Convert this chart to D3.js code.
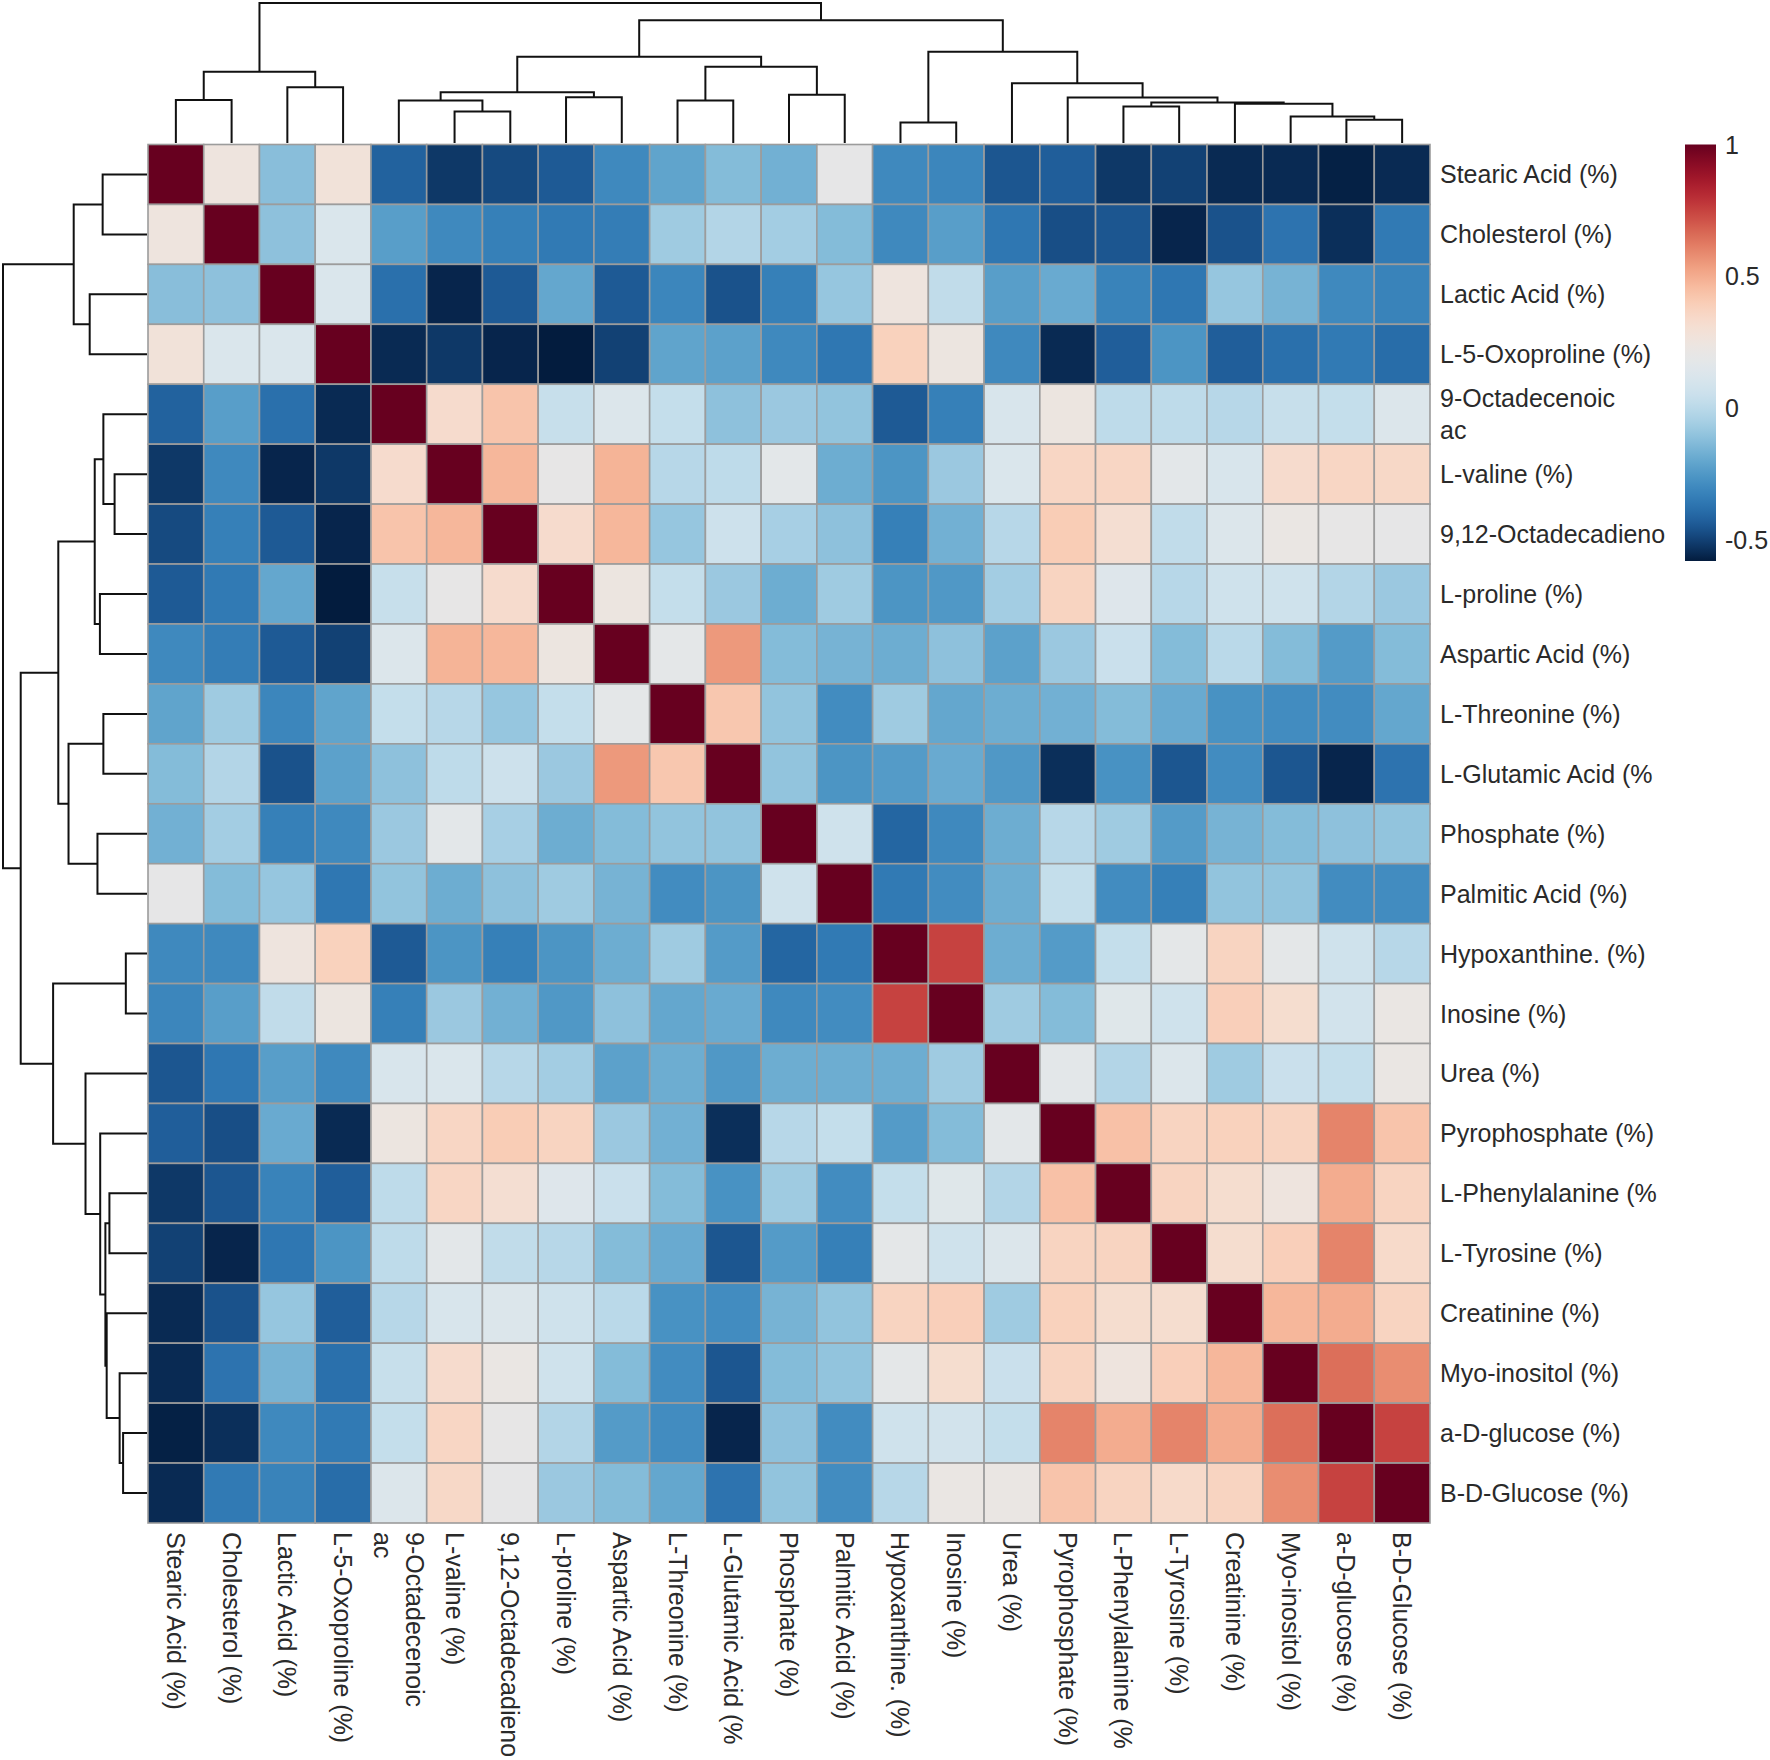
<!DOCTYPE html>
<html>
<head>
<meta charset="utf-8">
<script src="https://cdn.jsdelivr.net/npm/d3@7"></script>
<style>
body { margin: 0; background: #fff; }
text { font-family: "Liberation Sans", Arial, sans-serif; fill: #2a2a2a; font-size: 25px; }
</style>
</head>
<body>
<svg id="chart" width="1770" height="1760"></svg>
<script>
// leaf order as drawn (rows and columns are the same)
const metabolites = [
    "Stearic Acid (%)", "Cholesterol (%)", "Lactic Acid (%)", "L-5-Oxoproline (%)",
    "9-Octadecenoic\nac", "L-valine (%)", "9,12-Octadecadieno", "L-proline (%)",
    "Aspartic Acid (%)", "L-Threonine (%)", "L-Glutamic Acid (%", "Phosphate (%)",
    "Palmitic Acid (%)", "Hypoxanthine. (%)", "Inosine (%)", "Urea (%)",
    "Pyrophosphate (%)", "L-Phenylalanine (%", "L-Tyrosine (%)", "Creatinine (%)",
    "Myo-inositol (%)", "a-D-glucose (%)", "B-D-Glucose (%)"
];

// correlation matrix
const corr = [
    [1, 0.25, -0.12, 0.28, -0.42, -0.52, -0.48, -0.44, -0.3, -0.21, -0.13, -0.17, 0.19, -0.3, -0.31, -0.45, -0.43, -0.52, -0.5, -0.55, -0.55, -0.57, -0.55],
    [0.25, 1, -0.11, 0.12, -0.23, -0.3, -0.33, -0.35, -0.34, -0.07, -0.02, -0.06, -0.13, -0.3, -0.23, -0.36, -0.47, -0.45, -0.56, -0.46, -0.37, -0.54, -0.35],
    [-0.12, -0.11, 1, 0.12, -0.38, -0.56, -0.44, -0.2, -0.44, -0.31, -0.46, -0.33, -0.09, 0.25, 0.02, -0.23, -0.19, -0.32, -0.36, -0.09, -0.16, -0.3, -0.32],
    [0.28, 0.12, 0.12, 1, -0.55, -0.52, -0.56, -0.58, -0.5, -0.21, -0.22, -0.3, -0.36, 0.38, 0.24, -0.3, -0.55, -0.43, -0.26, -0.43, -0.38, -0.35, -0.39],
    [-0.42, -0.23, -0.38, -0.55, 1, 0.33, 0.43, 0.04, 0.13, 0.03, -0.11, -0.08, -0.1, -0.44, -0.33, 0.11, 0.24, 0.01, 0.01, -0.01, 0.04, 0.03, 0.13],
    [-0.52, -0.3, -0.56, -0.52, 0.33, 1, 0.47, 0.2, 0.48, -0.01, 0.01, 0.17, -0.18, -0.26, -0.08, 0.12, 0.36, 0.36, 0.17, 0.11, 0.33, 0.36, 0.35],
    [-0.48, -0.33, -0.44, -0.56, 0.43, 0.47, 1, 0.33, 0.47, -0.09, 0.06, -0.05, -0.11, -0.33, -0.17, -0.01, 0.4, 0.31, 0.02, 0.13, 0.22, 0.2, 0.19],
    [-0.44, -0.35, -0.2, -0.58, 0.04, 0.2, 0.33, 1, 0.24, 0.03, -0.08, -0.18, -0.07, -0.26, -0.25, -0.06, 0.37, 0.14, -0.01, 0.07, 0.07, -0.02, -0.08],
    [-0.3, -0.34, -0.44, -0.5, 0.13, 0.48, 0.47, 0.24, 1, 0.18, 0.55, -0.13, -0.16, -0.18, -0.11, -0.22, -0.08, 0.05, -0.13, 0.0, -0.13, -0.24, -0.13],
    [-0.21, -0.07, -0.31, -0.21, 0.03, -0.01, -0.09, 0.03, 0.18, 1, 0.42, -0.1, -0.29, -0.07, -0.2, -0.18, -0.17, -0.13, -0.19, -0.27, -0.29, -0.29, -0.2],
    [-0.13, -0.02, -0.46, -0.22, -0.11, 0.01, 0.06, -0.08, 0.55, 0.42, 1, -0.1, -0.26, -0.24, -0.19, -0.25, -0.54, -0.27, -0.45, -0.29, -0.45, -0.56, -0.37],
    [-0.17, -0.06, -0.33, -0.3, -0.08, 0.17, -0.05, -0.18, -0.13, -0.1, -0.1, 1, 0.07, -0.41, -0.3, -0.18, -0.01, -0.07, -0.24, -0.16, -0.13, -0.11, -0.1],
    [0.19, -0.13, -0.09, -0.36, -0.1, -0.18, -0.11, -0.07, -0.16, -0.29, -0.26, 0.07, 1, -0.35, -0.29, -0.18, 0.03, -0.29, -0.33, -0.1, -0.1, -0.29, -0.29],
    [-0.3, -0.3, 0.25, 0.38, -0.44, -0.26, -0.33, -0.26, -0.18, -0.07, -0.24, -0.41, -0.35, 1, 0.75, -0.18, -0.24, 0.03, 0.18, 0.37, 0.18, 0.07, -0.01],
    [-0.31, -0.23, 0.02, 0.24, -0.33, -0.08, -0.17, -0.25, -0.11, -0.2, -0.19, -0.3, -0.29, 0.75, 1, -0.07, -0.13, 0.15, 0.07, 0.39, 0.32, 0.08, 0.22],
    [-0.45, -0.36, -0.23, -0.3, 0.11, 0.12, -0.01, -0.06, -0.22, -0.18, -0.25, -0.18, -0.18, -0.18, -0.07, 1, 0.17, -0.02, 0.13, -0.07, 0.05, 0.03, 0.22],
    [-0.43, -0.47, -0.19, -0.55, 0.24, 0.36, 0.4, 0.37, -0.08, -0.17, -0.54, -0.01, 0.03, -0.24, -0.13, 0.17, 1, 0.44, 0.37, 0.38, 0.37, 0.6, 0.43],
    [-0.52, -0.45, -0.32, -0.43, 0.01, 0.36, 0.31, 0.14, 0.05, -0.13, -0.27, -0.07, -0.29, 0.03, 0.15, -0.02, 0.44, 1, 0.37, 0.32, 0.25, 0.5, 0.37],
    [-0.5, -0.56, -0.36, -0.26, 0.01, 0.17, 0.02, -0.01, -0.13, -0.19, -0.45, -0.24, -0.33, 0.18, 0.07, 0.13, 0.37, 0.37, 1, 0.32, 0.39, 0.6, 0.34],
    [-0.55, -0.46, -0.09, -0.43, -0.01, 0.11, 0.13, 0.07, 0.0, -0.27, -0.29, -0.16, -0.1, 0.37, 0.39, -0.07, 0.38, 0.32, 0.32, 1, 0.47, 0.5, 0.37],
    [-0.55, -0.37, -0.16, -0.38, 0.04, 0.33, 0.22, 0.07, -0.13, -0.29, -0.45, -0.13, -0.1, 0.18, 0.32, 0.05, 0.37, 0.25, 0.39, 0.47, 1, 0.65, 0.58],
    [-0.57, -0.54, -0.3, -0.35, 0.03, 0.36, 0.2, -0.02, -0.24, -0.29, -0.56, -0.11, -0.29, 0.07, 0.08, 0.03, 0.6, 0.5, 0.6, 0.5, 0.65, 1, 0.75],
    [-0.55, -0.35, -0.32, -0.39, 0.13, 0.35, 0.19, -0.08, -0.13, -0.2, -0.37, -0.1, -0.29, -0.01, 0.22, 0.22, 0.43, 0.37, 0.34, 0.37, 0.58, 0.75, 1]
];

// clustering merges: [childA, childB, height]; ids 0-22 are leaves, 23+ are merges in order
const merges = [
    [5, 6, 0.225], [4, 23, 0.303], [7, 8, 0.327], [24, 25, 0.363],
    [9, 10, 0.303], [11, 12, 0.344], [27, 28, 0.545], [26, 29, 0.616],
    [0, 1, 0.308], [2, 3, 0.398], [31, 32, 0.509],
    [13, 14, 0.147], [21, 22, 0.166], [20, 35, 0.19], [19, 36, 0.28],
    [17, 18, 0.261], [38, 37, 0.289], [16, 39, 0.325], [15, 40, 0.427],
    [34, 41, 0.652], [30, 42, 0.877], [33, 43, 1.0]
];

const legendTicks = [-0.5, 0, 0.5, 1];

const palette = ["#031c3e", "#2166ac", "#4393c3", "#92c5de", "#d1e5f0", "#e9e9e9",
                 "#fddbc7", "#f4a582", "#d6604d", "#b2182b", "#67001f"];

const n = metabolites.length;
const hmLeft = 148, hmRight = 1430, hmTop = 144.5, hmBottom = 1523;

const svg = d3.select("#chart");

let x = d3.scaleBand().domain(d3.range(n)).range([hmLeft, hmRight]);
let y = d3.scaleBand().domain(d3.range(n)).range([hmTop, hmBottom]);

const vmin = d3.min(corr.flat()), vmax = d3.max(corr.flat());
let color = d3.scaleSequential(d3.interpolateRgbBasis(palette)).domain([vmin, vmax]);

// heatmap cells
const cells = [];
corr.forEach((row, i) => row.forEach((v, j) => cells.push({i, j, v})));

svg.append("g")
    .selectAll("rect")
    .data(cells)
    .enter()
    .append("rect")
    .attr("x", d => x(d.j))
    .attr("y", d => y(d.i))
    .attr("width", x.bandwidth())
    .attr("height", y.bandwidth())
    .attr("fill", d => color(d.v))
    .attr("stroke", "#9c9c9c")
    .attr("stroke-width", 1.6);

// labels (some have a line break)
function addLines(text, label) {
    const lines = label.split("\n");
    lines.forEach((ln, k) => {
        text.append("tspan")
            .attr("x", 0)
            .attr("dy", k === 0 ? `${-(lines.length - 1) * 0.64}em` : "1.28em")
            .text(ln);
    });
}

svg.append("g")
    .selectAll("g")
    .data(metabolites)
    .enter()
    .append("g")
    .attr("transform", (d, i) => `translate(1440,${y(i) + y.bandwidth() / 2})`)
    .append("text")
    .attr("dominant-baseline", "central")
    .each(function(d) { addLines(d3.select(this), d); });

svg.append("g")
    .selectAll("g")
    .data(metabolites)
    .enter()
    .append("g")
    .attr("transform", (d, i) => `translate(${x(i) + x.bandwidth() / 2},1532) rotate(90)`)
    .append("text")
    .attr("dominant-baseline", "central")
    .each(function(d) { addLines(d3.select(this), d); });

// dendrogram node positions (in leaf units) and heights
const pos = d3.range(n).map(i => i + 0.5);
const hgt = d3.range(n).map(() => 0);
merges.forEach(([a, b, h]) => { pos.push((pos[a] + pos[b]) / 2); hgt.push(h); });
const maxH = d3.max(hgt);

let colPos = d3.scaleLinear().domain([0, n]).range([hmLeft, hmRight]);
let rowPos = d3.scaleLinear().domain([0, n]).range([hmTop, hmBottom]);
let hTop = d3.scaleLinear().domain([0, maxH]).range([143, 3]);
let hLeft = d3.scaleLinear().domain([0, maxH]).range([147, 3]);

svg.append("g")
    .selectAll("path")
    .data(merges)
    .enter()
    .append("path")
    .attr("d", ([a, b, h]) =>
        `M${colPos(pos[a])},${hTop(hgt[a])}V${hTop(h)}H${colPos(pos[b])}V${hTop(hgt[b])}`)
    .attr("fill", "none")
    .attr("stroke", "#111")
    .attr("stroke-width", 2);

svg.append("g")
    .selectAll("path")
    .data(merges)
    .enter()
    .append("path")
    .attr("d", ([a, b, h]) =>
        `M${hLeft(hgt[a])},${rowPos(pos[a])}H${hLeft(h)}V${rowPos(pos[b])}H${hLeft(hgt[b])}`)
    .attr("fill", "none")
    .attr("stroke", "#111")
    .attr("stroke-width", 2);

// colour legend
let legendY = d3.scaleLinear().domain([vmin, vmax]).range([561, 144.5]);

const grad = svg.append("defs").append("linearGradient")
    .attr("id", "lg").attr("x1", 0).attr("x2", 0).attr("y1", 1).attr("y2", 0);
d3.range(0, 1.0001, 0.02).forEach(t => {
    grad.append("stop")
        .attr("offset", t)
        .attr("stop-color", color(vmin + t * (vmax - vmin)));
});

svg.append("rect")
    .attr("x", 1685)
    .attr("y", legendY(vmax))
    .attr("width", 31)
    .attr("height", legendY(vmin) - legendY(vmax))
    .attr("fill", "url(#lg)");

svg.append("g")
    .selectAll("text")
    .data(legendTicks)
    .enter()
    .append("text")
    .attr("x", 1725)
    .attr("y", d => legendY(d))
    .attr("dominant-baseline", "central")
    .text(d => d);
</script>
</body>
</html>
